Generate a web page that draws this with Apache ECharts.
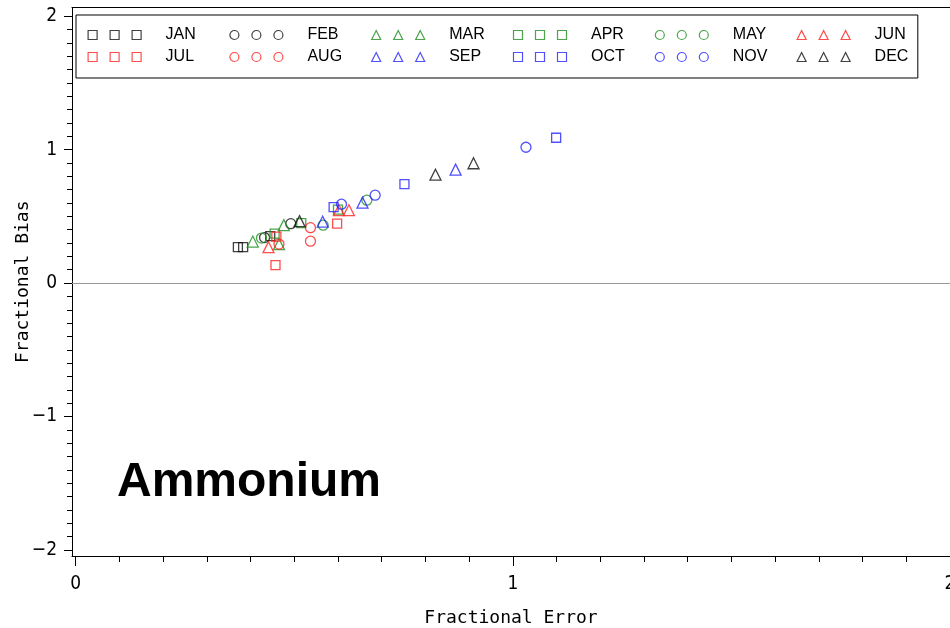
<!DOCTYPE html>
<html>
<head>
<meta charset="utf-8">
<script src="https://cdn.jsdelivr.net/npm/echarts@6/dist/echarts.min.js"></script>
<style>
  html, body { margin: 0; padding: 0; background: #fff; }
  #chart { width: 950px; height: 628px; }
</style>
</head>
<body>
<div id="chart"></div>
<script>
// Monthly model performance for ammonium: [fractional error, fractional bias]
const months = ['JAN', 'FEB', 'MAR', 'APR', 'MAY', 'JUN', 'JUL', 'AUG', 'SEP', 'OCT', 'NOV', 'DEC'];

const jan = [[0.371, 0.269], [0.383, 0.269], [0.445, 0.352]];
const feb = [[0.432, 0.341], [0.492, 0.445]];
const mar = [[0.405, 0.311], [0.476, 0.434], [0.465, 0.292]];
const apr = [[0.455, 0.370], [0.516, 0.449], [0.600, 0.550]];
const may = [[0.425, 0.337], [0.566, 0.434], [0.666, 0.621]];
const jun = [[0.441, 0.269], [0.602, 0.546], [0.625, 0.546]];
const jul = [[0.459, 0.348], [0.457, 0.135], [0.598, 0.445]];
const aug = [[0.465, 0.292], [0.537, 0.415], [0.537, 0.314]];
const sep = [[0.565, 0.460], [0.656, 0.603], [0.869, 0.850]];
const oct = [[0.590, 0.569], [0.752, 0.741], [1.099, 1.089]];
const nov = [[0.608, 0.591], [0.685, 0.659], [1.030, 1.018]];
const dec = [[0.512, 0.464], [0.823, 0.812], [0.910, 0.898]];

const monthValues = [jan, feb, mar, apr, may, jun, jul, aug, sep, oct, nov, dec];

// Axis ticks and labels
const xTicks = [0, 1, 2];
const yTicks = [-2, -1, 0, 1, 2];
const referenceBias = 0;

// Marker shape and colour for each month
const BLACK = '#111111', RED = '#ff2020', GREEN = '#1f8f1f', BLUE = '#2424ff';
const monthMarkers = {
  JAN: ['square', BLACK], FEB: ['circle', BLACK], MAR: ['triangle', GREEN],
  APR: ['square', GREEN], MAY: ['circle', GREEN], JUN: ['triangle', RED],
  JUL: ['square', RED],   AUG: ['circle', RED],   SEP: ['triangle', BLUE],
  OCT: ['square', BLUE],  NOV: ['circle', BLUE],  DEC: ['triangle', BLACK]
};
const seriesSymbol = { square: 'rect', circle: 'circle', triangle: 'triangle' };
const seriesSymbolSize = { square: 9, circle: 10, triangle: 11 };
// legend key: three outlined markers in a row
const legendIcon = {
  square: 'path://M0,0H9V9H0Z M22,0H31V9H22Z M44,0H53V9H44Z',
  circle: 'path://M0,4.5A4.5,4.5,0,1,1,9,4.5A4.5,4.5,0,1,1,0,4.5Z M22,4.5A4.5,4.5,0,1,1,31,4.5A4.5,4.5,0,1,1,22,4.5Z M44,4.5A4.5,4.5,0,1,1,53,4.5A4.5,4.5,0,1,1,44,4.5Z',
  triangle: 'path://M4.5,0L9,9H0Z M26.5,0L31,9H22Z M48.5,0L53,9H44Z'
};

const TICK_FONT = "'Liberation Sans Narrow', 'DejaVu Sans Condensed', 'DejaVu Sans Mono', monospace";
const TITLE_FONT = "'DejaVu Sans Mono', 'Liberation Mono', monospace";
const LEGEND_FONT = "'Liberation Sans', Arial, sans-serif";

const xMin = -0.0085, xMax = 2.0;
const yMin = -2.045, yMax = 2.065;

function minorTicks(lo, hi, majors) {
  const out = [];
  for (let i = Math.round(lo * 10); i <= Math.round(hi * 10); i++) {
    const v = i / 10;
    if (!majors.some(m => Math.abs(m - v) < 1e-9)) out.push(v);
  }
  return out;
}
const xMinor = minorTicks(0, 2, xTicks);
const yMinor = minorTicks(-2, 2, yTicks);

const fmtTick = v => (v < 0 ? '\u2212' + Math.abs(v) : String(v));

const series = months.map((m, i) => {
  const [shape, color] = monthMarkers[m];
  const s = {
    name: m,
    type: 'scatter',
    data: monthValues[i],
    symbol: seriesSymbol[shape],
    symbolSize: seriesSymbolSize[shape],
    itemStyle: { color: 'transparent', borderColor: color, borderWidth: 1.3 },
    emphasis: { disabled: true },
    z: 3
  };
  if (i === 0) {
    s.markLine = {
      silent: true,
      symbol: ['none', 'none'],
      label: { show: false },
      lineStyle: { color: '#9a9a9a', width: 1, type: 'solid' },
      emphasis: { disabled: true },
      data: [{ yAxis: referenceBias }],
      z: 1
    };
  }
  return s;
});

// Legend: six columns, each holding two months (Jan/Jul, Feb/Aug, ...)
const LEGEND_LEFT = 87.5, LEGEND_PITCH = 141.8, LEGEND_TOP = 27;
const legendItem = m => ({ name: m, icon: legendIcon[monthMarkers[m][0]] });
const legends = [];
for (let c = 0; c < 6; c++) {
  const lg = {
    orient: 'vertical',
    align: 'left',
    left: LEGEND_LEFT + c * LEGEND_PITCH,
    top: LEGEND_TOP,
    padding: 0,
    itemWidth: 53,
    itemHeight: 9,
    itemGap: 6,
    selectedMode: false,
    data: [legendItem(months[c]), legendItem(months[c + 6])],
    itemStyle: { color: 'transparent', borderWidth: 1.2 },
    textStyle: { fontFamily: LEGEND_FONT, fontSize: 16, color: '#000', padding: [0, 0, 0, 19.5] }
  };
  if (c === 0) {
    // first column carries the frame around the whole key
    lg.left = 76;
    lg.top = 15;
    lg.padding = [12, 722, 13, 11.5];
    lg.borderColor = '#000';
    lg.borderWidth = 1;
  }
  legends.push(lg);
}

const option = {
  backgroundColor: '#ffffff',
  animation: false,
  title: {
    text: 'Ammonium',
    left: 117,
    top: 459,
    padding: 0,
    textStyle: { fontFamily: "'Liberation Sans', Arial, sans-serif", fontWeight: 'bold', fontSize: 48, lineHeight: 48, color: '#000' }
  },
  legend: legends,
  grid: { left: 72, right: 0, top: 7.5, bottom: 72, outerBoundsMode: 'none' },
  xAxis: [
    {
      type: 'value', position: 'bottom', min: xMin, max: xMax,
      name: 'Fractional Error', nameLocation: 'middle', nameGap: 53, nameMoveOverlap: false,
      nameTextStyle: { fontFamily: TITLE_FONT, fontSize: 18, color: '#000' },
      axisLine: { show: true, onZero: false, lineStyle: { color: '#000', width: 1 } },
      axisTick: { show: true, customValues: xTicks, length: 10, lineStyle: { color: '#000', width: 1 } },
      axisLabel: { customValues: xTicks, formatter: fmtTick, margin: 19, fontFamily: TICK_FONT, fontSize: 19, color: '#000' },
      splitLine: { show: false }
    },
    {
      type: 'value', position: 'bottom', min: xMin, max: xMax,
      axisLine: { show: false, onZero: false },
      axisTick: { show: true, customValues: xMinor, length: 6, lineStyle: { color: '#000', width: 1 } },
      axisLabel: { show: false },
      splitLine: { show: false }
    },
    {
      type: 'value', position: 'top', min: xMin, max: xMax,
      axisLine: { show: true, onZero: false, lineStyle: { color: '#000', width: 1 } },
      axisTick: { show: false },
      axisLabel: { show: false },
      splitLine: { show: false }
    }
  ],
  yAxis: [
    {
      type: 'value', position: 'left', min: yMin, max: yMax,
      name: 'Fractional Bias', nameLocation: 'middle', nameGap: 40, nameMoveOverlap: false,
      nameTextStyle: { fontFamily: TITLE_FONT, fontSize: 18, color: '#000' },
      axisLine: { show: true, onZero: false, lineStyle: { color: '#000', width: 1 } },
      axisTick: { show: true, customValues: yTicks, length: 8, lineStyle: { color: '#000', width: 1 } },
      axisLabel: { customValues: yTicks, formatter: fmtTick, margin: 15, fontFamily: TICK_FONT, fontSize: 19, color: '#000' },
      splitLine: { show: false }
    },
    {
      type: 'value', position: 'left', min: yMin, max: yMax,
      axisLine: { show: false, onZero: false },
      axisTick: { show: true, customValues: yMinor, length: 5, lineStyle: { color: '#000', width: 1 } },
      axisLabel: { show: false },
      splitLine: { show: false }
    }
  ],
  series: series
};

const chart = echarts.init(document.getElementById('chart'), null, { renderer: 'canvas' });
chart.setOption(option);
</script>
</body>
</html>
